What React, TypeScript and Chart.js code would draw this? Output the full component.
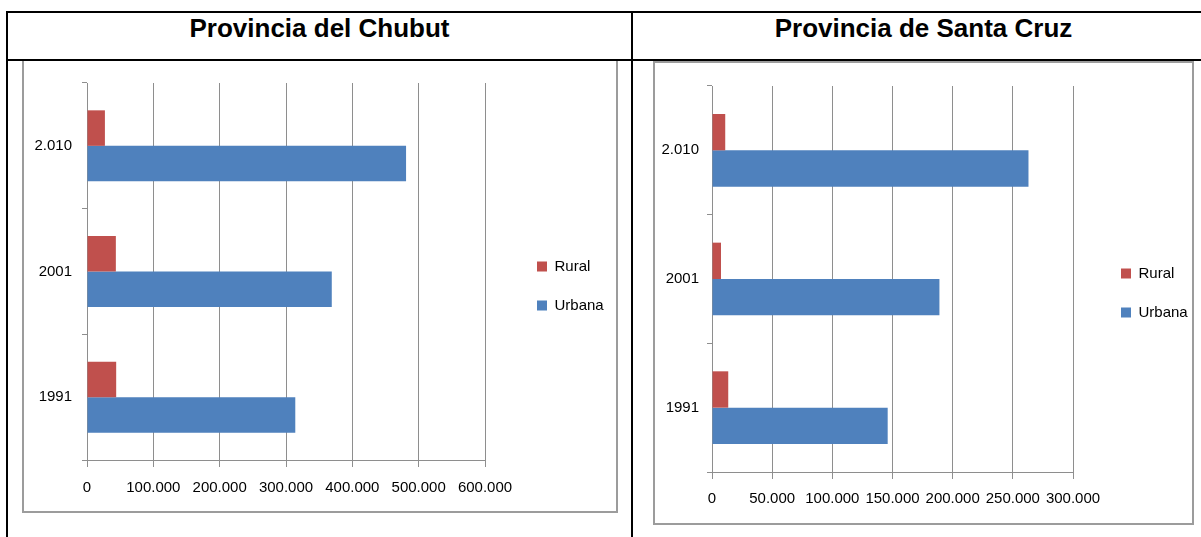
import React, { useEffect, useRef } from "react";
import { Chart, registerables } from "chart.js";

Chart.register(...registerables);

// ---- data ----
const categories = ["2.010", "2001", "1991"];
const seriesNames = ["Rural", "Urbana"];
const titles = ["Provincia del Chubut", "Provincia de Santa Cruz"];

const chubutRural = [27000, 43500, 44000];
const chubutUrbana = [481000, 369000, 314000];
const chubutTicks = ["0", "100.000", "200.000", "300.000", "400.000", "500.000", "600.000"];
const chubutMax = 600000;
const chubutStep = 100000;

const santaCruzRural = [11000, 7500, 13500];
const santaCruzUrbana = [263000, 189000, 146000];
const santaCruzTicks = ["0", "50.000", "100.000", "150.000", "200.000", "250.000", "300.000"];
const santaCruzMax = 300000;
const santaCruzStep = 50000;

// ---- styles ----
const RED = "#C0504D";
const BLUE = "#4F81BD";
const GRID = "#8e8e8e";
const FONT = "'Liberation Sans', Arial, sans-serif";

// places the legend horizontally at a given x and centres it vertically on the canvas
const legendShift = {
  id: "legendShift",
  afterLayout(chart: any, _args: any, opts: any) {
    const l = chart.legend;
    if (!l || opts == null || opts.x == null) return;
    const pad = l.options.labels.padding;
    const w = l.width;
    l.left = opts.x - pad;
    l.right = l.left + w;
    l.top = 0;
    l.bottom = chart.height;
    l.height = chart.height;
  },
};

type Geom = {
  left: number;
  top: number;
  w: number;
  h: number;
  yWidth: number;
  plotRightPad: number;
  padTop: number;
  xHeight: number;
  xTickPad: number;
  yTickPad: number;
  legendX: number;
};

function BarChart(props: {
  rural: number[];
  urbana: number[];
  max: number;
  step: number;
  ticks: string[];
  g: Geom;
}) {
  const ref = useRef<HTMLCanvasElement>(null);
  const { rural, urbana, max, step, ticks, g } = props;
  useEffect(() => {
    const font = { family: FONT, size: 15 };
    const chart = new Chart(ref.current as HTMLCanvasElement, {
      type: "bar",
      data: {
        labels: categories,
        datasets: [
          {
            label: seriesNames[0],
            data: rural,
            backgroundColor: RED,
            borderColor: RED,
            borderWidth: 0,
            categoryPercentage: 0.565,
            barPercentage: 1,
          },
          {
            label: seriesNames[1],
            data: urbana,
            backgroundColor: BLUE,
            borderColor: BLUE,
            borderWidth: 0,
            categoryPercentage: 0.565,
            barPercentage: 1,
          },
        ],
      },
      plugins: [legendShift as any],
      options: {
        indexAxis: "y",
        responsive: false,
        animation: false,
        devicePixelRatio: 1,
        layout: { padding: { top: g.padTop, bottom: 0, left: 0, right: 0 } },
        plugins: {
          legend: {
            position: "right",
            align: "center",
            labels: {
              boxWidth: 10,
              boxHeight: 10,
              padding: 24,
              color: "#000",
              font,
            },
          },
          tooltip: { enabled: false },
          legendShift: { x: g.legendX },
        } as any,
        scales: {
          x: {
            type: "linear",
            min: 0,
            max,
            ticks: {
              stepSize: step,
              color: "#000",
              font,
              padding: g.xTickPad,
              maxRotation: 0,
              autoSkip: false,
              callback: (_v: any, i: number) => ticks[i],
            },
            grid: { color: GRID, tickLength: 7, drawTicks: true, lineWidth: 1 },
            border: { display: true, color: GRID, width: 1 },
            afterFit: (s: any) => {
              s.height = g.xHeight;
              s.paddingRight = g.plotRightPad;
            },
          },
          y: {
            type: "category",
            ticks: { color: "#000", font, padding: g.yTickPad },
            grid: {
              display: true,
              drawOnChartArea: false,
              drawTicks: true,
              tickLength: 5,
              color: GRID,
              offset: true,
            },
            border: { display: true, color: GRID, width: 1 },
            afterFit: (s: any) => {
              s.width = g.yWidth;
            },
          },
        } as any,
      },
    } as any);
    return () => chart.destroy();
  }, []);
  return (
    <canvas
      ref={ref}
      width={g.w}
      height={g.h}
      style={{ position: "absolute", left: g.left, top: g.top, width: g.w, height: g.h }}
    />
  );
}

const line = (left: number, top: number, width: number, height: number, color = "#000") => (
  <div style={{ position: "absolute", left, top, width, height, background: color }} />
);

const titleStyle = (left: number, width: number): React.CSSProperties => ({
  position: "absolute",
  left,
  top: 13,
  width,
  height: 30,
  lineHeight: "30px",
  fontSize: 26,
  fontWeight: "bold",
  textAlign: "center",
  color: "#000",
  whiteSpace: "nowrap",
});

export default function App() {
  return (
    <div
      style={{
        position: "fixed",
        left: 0,
        top: 0,
        width: 1201,
        height: 537,
        overflow: "hidden",
        background: "#fff",
        fontFamily: FONT,
      }}
    >
      {/* chart boxes */}
      <div
        style={{
          position: "absolute",
          left: 22,
          top: 59,
          width: 592,
          height: 450,
          border: "2px solid #9c9c9c",
        }}
      />
      <div
        style={{
          position: "absolute",
          left: 653,
          top: 61,
          width: 537,
          height: 460,
          border: "2px solid #9c9c9c",
        }}
      />

      {/* table lines */}
      {line(6, 11, 1195, 2)}
      {line(6, 11, 2, 526)}
      {line(6, 59, 1195, 2)}
      {line(631, 11, 2, 526)}

      {/* titles */}
      <div style={titleStyle(8, 623)}>{titles[0]}</div>
      <div style={titleStyle(633, 581)}>{titles[1]}</div>

      <BarChart
        rural={chubutRural}
        urbana={chubutUrbana}
        max={chubutMax}
        step={chubutStep}
        ticks={chubutTicks}
        g={{
          left: 24,
          top: 61,
          w: 592,
          h: 450,
          yWidth: 63,
          plotRightPad: 131,
          padTop: 22,
          xHeight: 51,
          xTickPad: 12,
          yTickPad: 10,
          legendX: 513,
        }}
      />
      <BarChart
        rural={santaCruzRural}
        urbana={santaCruzUrbana}
        max={santaCruzMax}
        step={santaCruzStep}
        ticks={santaCruzTicks}
        g={{
          left: 655,
          top: 63,
          w: 537,
          h: 460,
          yWidth: 57,
          plotRightPad: 119,
          padTop: 23,
          xHeight: 51,
          xTickPad: 11,
          yTickPad: 8,
          legendX: 466,
        }}
      />
    </div>
  );
}
